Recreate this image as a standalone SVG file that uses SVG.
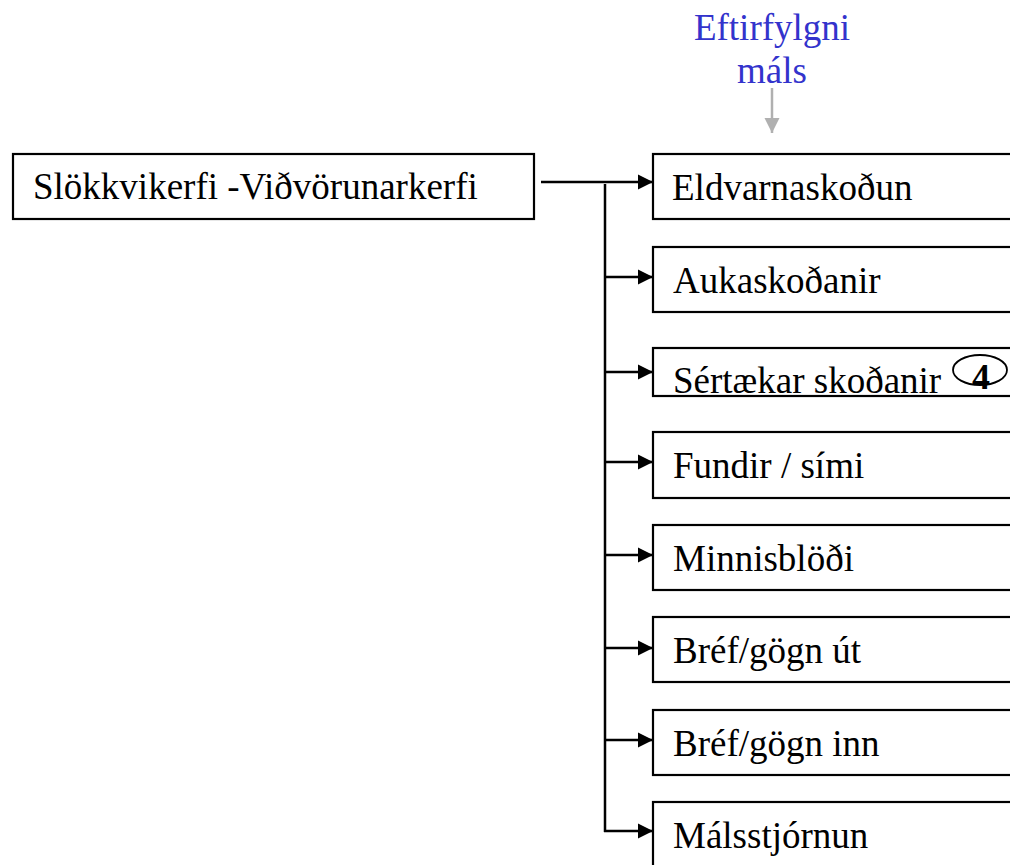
<svg xmlns="http://www.w3.org/2000/svg" width="1010" height="865" viewBox="0 0 1010 865">
  <style>
    .box { fill: #ffffff; stroke: #000000; stroke-width: 2.2; }
    .t { font-family: "Liberation Serif", "Times New Roman", serif; font-size: 37px; fill: #000000; }
    .blue { font-family: "Liberation Serif", "Times New Roman", serif; font-size: 37px; fill: #3333cc; text-anchor: middle; }
    .num { font-family: "Liberation Serif", "Times New Roman", serif; font-size: 36px; font-weight: bold; fill: #000000; text-anchor: middle; }
    .conn { stroke: #000000; stroke-width: 2.5; fill: none; }
  </style>
  <defs>
    <marker id="ah" markerUnits="userSpaceOnUse" markerWidth="17" markerHeight="17" refX="15" refY="8" orient="auto">
      <path d="M0,0.5 L15,8 L0,15.5 Z" fill="#000000"/>
    </marker>
    <marker id="ahg" markerUnits="userSpaceOnUse" markerWidth="17" markerHeight="17" refX="15" refY="8" orient="auto">
      <path d="M0,0.5 L15,8 L0,15.5 Z" fill="#b0b0b0"/>
    </marker>
  </defs>

  <g id="label-eftirfylgni">
    <text class="blue" x="772" y="40">Eftirfylgni</text>
    <text class="blue" x="772" y="83">máls</text>
  </g>

  <g id="source">
    <rect class="box" x="13" y="154" width="521" height="65"/>
    <text class="t" x="33" y="199">Slökkvikerfi -Viðvörunarkerfi</text>
  </g>

  <g id="n-eldvarnaskodun">
    <rect class="box" x="653" y="154" width="400" height="65"/>
    <text class="t" x="672" y="200">Eldvarnaskoðun</text>
  </g>
  <g id="n-aukaskodanir">
    <rect class="box" x="653" y="247" width="400" height="65"/>
    <text class="t" x="673" y="293">Aukaskoðanir</text>
  </g>
  <g id="n-sertaekar">
    <rect class="box" x="653" y="348" width="400" height="48"/>
    <text class="t" x="673" y="393">Sértækar skoðanir</text>
    <ellipse cx="980" cy="370" rx="27" ry="15" fill="none" stroke="#000000" stroke-width="1.8"/>
    <text class="num" x="981" y="389">4</text>
  </g>
  <g id="n-fundir">
    <rect class="box" x="653" y="432" width="400" height="66"/>
    <text class="t" x="673" y="478">Fundir / sími</text>
  </g>
  <g id="n-minnisblodi">
    <rect class="box" x="653" y="525" width="400" height="65"/>
    <text class="t" x="673" y="571">Minnisblöði</text>
  </g>
  <g id="n-bref-ut">
    <rect class="box" x="653" y="617" width="400" height="65"/>
    <text class="t" x="673" y="663">Bréf/gögn út</text>
  </g>
  <g id="n-bref-inn">
    <rect class="box" x="653" y="710" width="400" height="65"/>
    <text class="t" x="673" y="756">Bréf/gögn inn</text>
  </g>
  <g id="n-malsstjornun">
    <rect class="box" x="653" y="802" width="400" height="100"/>
    <text class="t" x="673" y="848">Málsstjórnun</text>
  </g>

  <g id="connectors">
    <line x1="772" y1="88" x2="772" y2="133" stroke="#b0b0b0" stroke-width="2.5" marker-end="url(#ahg)"/>
    <line class="conn" x1="541" y1="182" x2="653" y2="182" marker-end="url(#ah)"/>
    <line class="conn" x1="605" y1="184" x2="605" y2="832"/>
    <line class="conn" x1="605" y1="277" x2="653" y2="277" marker-end="url(#ah)"/>
    <line class="conn" x1="605" y1="372" x2="653" y2="372" marker-end="url(#ah)"/>
    <line class="conn" x1="605" y1="462" x2="653" y2="462" marker-end="url(#ah)"/>
    <line class="conn" x1="605" y1="555" x2="653" y2="555" marker-end="url(#ah)"/>
    <line class="conn" x1="605" y1="648" x2="653" y2="648" marker-end="url(#ah)"/>
    <line class="conn" x1="605" y1="740" x2="653" y2="740" marker-end="url(#ah)"/>
    <line class="conn" x1="604" y1="831" x2="653" y2="831" marker-end="url(#ah)"/>
  </g>
</svg>
